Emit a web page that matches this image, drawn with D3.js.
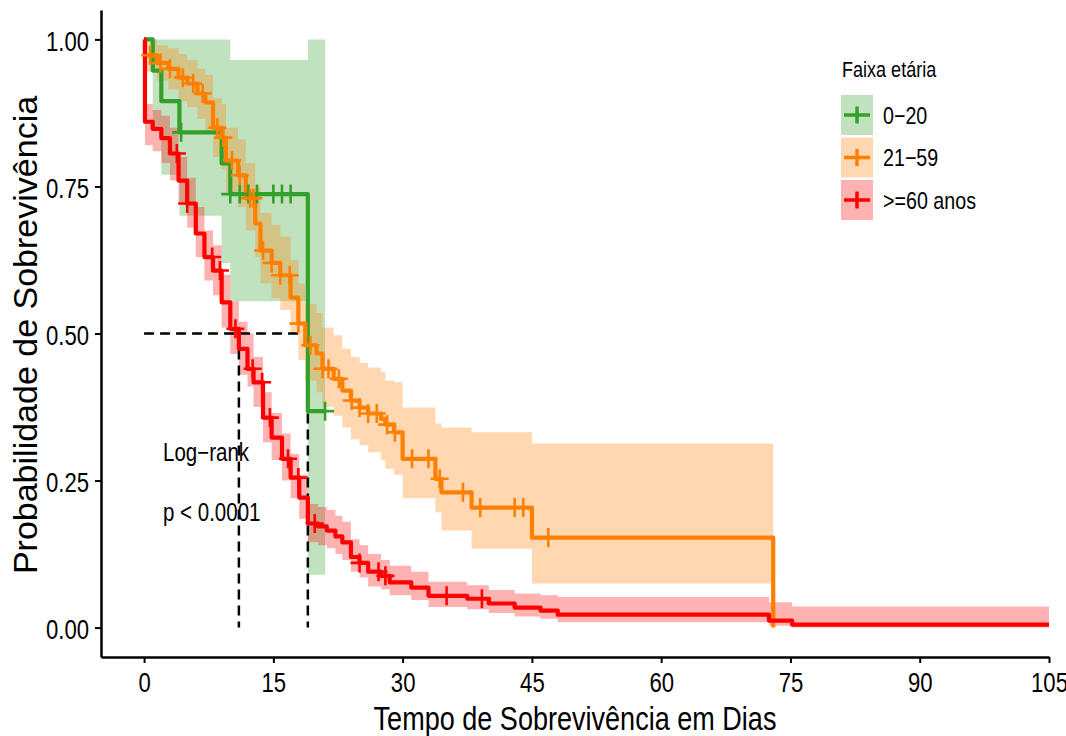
<!DOCTYPE html>
<html>
<head>
<meta charset="utf-8">
<script src="https://cdn.jsdelivr.net/npm/d3@7"></script>
<style>
  body { margin: 0; background: #fff; }
  svg { display: block; font-family: "Liberation Sans", Arial, sans-serif; }
</style>
</head>
<body>
<svg id="chart" width="1066" height="736"></svg>
<script>
// Kaplan-Meier estimates (time in days)
const greenTime  = [0, 1, 2, 4.1, 9, 10, 19];
const greenSurv  = [1, 0.947, 0.895, 0.842, 0.789, 0.737, 0.368];
const greenLower = [1, 0.85, 0.77, 0.70, 0.62, 0.555, 0.09];
const greenUpper = [1, 1, 1, 1, 1, 0.965, 1];
const greenCensor = [4.3, 10, 11.1, 12.1, 13.1, 15, 16, 17, 21];
const greenEnd = 21;

const orangeTime  = [0, 0.1, 1.5, 2.8, 4, 5, 6.2, 7.1, 8, 9, 9.5, 10.9, 11.8, 12.9, 13.5, 14.8, 15.8, 17, 17.9, 18.7, 20, 20.7, 22, 23, 24, 25, 26, 27.5, 28, 29, 30, 33.8, 34.5, 38, 45, 73];
const orangeSurv  = [1, 0.973, 0.96, 0.95, 0.935, 0.925, 0.908, 0.893, 0.85, 0.833, 0.794, 0.769, 0.73, 0.687, 0.641, 0.62, 0.599, 0.561, 0.517, 0.48, 0.466, 0.44, 0.423, 0.403, 0.386, 0.374, 0.364, 0.355, 0.345, 0.332, 0.287, 0.253, 0.23, 0.204, 0.153, 0];
const orangeLower = [1, 0.945, 0.93, 0.915, 0.895, 0.885, 0.865, 0.845, 0.80, 0.78, 0.74, 0.715, 0.675, 0.63, 0.585, 0.56, 0.54, 0.50, 0.455, 0.42, 0.40, 0.375, 0.36, 0.34, 0.32, 0.31, 0.298, 0.285, 0.27, 0.26, 0.22, 0.196, 0.165, 0.134, 0.075, 0.075];
const orangeUpper = [1, 1, 0.99, 0.985, 0.975, 0.965, 0.95, 0.94, 0.90, 0.89, 0.85, 0.83, 0.79, 0.75, 0.705, 0.685, 0.665, 0.625, 0.585, 0.55, 0.535, 0.51, 0.497, 0.474, 0.46, 0.45, 0.442, 0.434, 0.42, 0.417, 0.374, 0.347, 0.34, 0.332, 0.313, 0.313];
const orangeCensor = [0.7, 1.9, 3, 4.5, 5.7, 6.8, 8.5, 9.2, 10.2, 11.1, 12.3, 12.7, 13.8, 14.8, 15.8, 16.9, 17.9, 19.3, 20.7, 21.4, 22.6, 24.1, 25, 26, 27, 28.2, 29.1, 31.1, 33, 34.3, 37, 39, 43, 44, 46.9];
const orangeEnd = 73;

const redTime  = [0, 0.1, 1, 2, 3, 4, 5, 6, 7, 8, 9, 10, 11, 12, 12.7, 13.8, 14.8, 16, 17, 18, 19, 20.2, 21.2, 22.2, 23, 24, 25, 26, 27.5, 28.5, 31, 33, 37.5, 40, 43, 46, 48, 72.5, 75.2];
const redSurv  = [1, 0.86, 0.848, 0.832, 0.806, 0.76, 0.721, 0.67, 0.63, 0.607, 0.553, 0.508, 0.474, 0.44, 0.417, 0.357, 0.323, 0.287, 0.255, 0.221, 0.177, 0.172, 0.165, 0.155, 0.145, 0.12, 0.11, 0.095, 0.088, 0.077, 0.068, 0.054, 0.049, 0.041, 0.034, 0.029, 0.022, 0.012, 0.005];
const redLower = [1, 0.82, 0.81, 0.79, 0.76, 0.72, 0.68, 0.63, 0.59, 0.565, 0.51, 0.465, 0.43, 0.41, 0.375, 0.315, 0.285, 0.25, 0.22, 0.185, 0.145, 0.14, 0.135, 0.125, 0.115, 0.095, 0.085, 0.07, 0.065, 0.055, 0.047, 0.035, 0.031, 0.025, 0.019, 0.015, 0.009, 0.003, 0];
const redUpper = [1, 0.89, 0.88, 0.87, 0.85, 0.80, 0.765, 0.715, 0.675, 0.65, 0.60, 0.555, 0.52, 0.50, 0.46, 0.40, 0.365, 0.33, 0.295, 0.26, 0.21, 0.205, 0.20, 0.19, 0.18, 0.15, 0.14, 0.125, 0.115, 0.105, 0.095, 0.078, 0.072, 0.064, 0.058, 0.055, 0.052, 0.043, 0.036];
const redCensor = [3.8, 5, 7.9, 8.8, 10.6, 12.6, 13.7, 14.6, 16.7, 17.9, 19.8, 25, 27.2, 28, 35.1, 39.2];
const redEnd = 105;

const groupLabels = ["0\u221220", "21\u221259", ">=60 anos"];
const groupColors = ["#33A02C", "#FF7F00", "#FF0000"];

const xTicks = [0, 15, 30, 45, 60, 75, 90, 105];
const yTicks = [0, 0.25, 0.5, 0.75, 1];
const medians = [11, 19];

// Build one record per group
function makeGroup(time, surv, lower, upper, censor, end, i) {
    const pts = time.map((t, j) => ({ t: t, s: surv[j], lo: lower[j], hi: upper[j] }));
    const last = pts[pts.length - 1];
    pts.push({ t: end, s: last.s, lo: last.lo, hi: last.hi });
    return { pts: pts, censor: censor, label: groupLabels[i], color: groupColors[i] };
}

const groups = [
    makeGroup(greenTime, greenSurv, greenLower, greenUpper, greenCensor, greenEnd, 0),
    makeGroup(orangeTime, orangeSurv, orangeLower, orangeUpper, orangeCensor, orangeEnd, 1),
    makeGroup(redTime, redSurv, redLower, redUpper, redCensor, redEnd, 2)
];

// survival value at time t (step function)
function survAt(g, t) {
    let s = g.pts[0].s;
    g.pts.forEach(p => { if (p.t <= t) s = p.s; });
    return s;
}

const svg = d3.select("#chart");
const narrow = 0.82;

const x = d3.scaleLinear().domain([-5, 105]).range([101, 1049]);
const y = d3.scaleLinear().domain([-0.05, 1.05]).range([657, 10]);

const band = d3.area()
    .x(d => x(d.t))
    .y0(d => y(d.lo))
    .y1(d => y(d.hi))
    .curve(d3.curveStepAfter);

const line = d3.line()
    .x(d => x(d.t))
    .y(d => y(d.s))
    .curve(d3.curveStepAfter);

// Confidence bands
svg.append("g").selectAll("path")
    .data(groups)
    .enter()
    .append("path")
    .attr("d", d => band(d.pts))
    .style("fill", d => d.color)
    .style("fill-opacity", 0.3)
    .style("stroke", "none");

// Median dashed lines
const dash = svg.append("g")
    .style("stroke", "#000")
    .style("stroke-width", 2.5)
    .style("stroke-dasharray", "10,6")
    .style("fill", "none");

dash.append("line")
    .attr("x1", x(0)).attr("x2", x(d3.max(medians)))
    .attr("y1", y(0.5)).attr("y2", y(0.5));

dash.selectAll(".vmed")
    .data(medians)
    .enter()
    .append("line")
    .attr("class", "vmed")
    .attr("x1", d => x(d)).attr("x2", d => x(d))
    .attr("y1", y(0.5)).attr("y2", y(0));

// Survival curves
svg.append("g").selectAll("path")
    .data(groups)
    .enter()
    .append("path")
    .attr("d", d => line(d.pts))
    .style("fill", "none")
    .style("stroke", d => d.color)
    .style("stroke-width", 4.2)
    .style("stroke-linejoin", "round");

// Censor marks
const plus = "M-9,0H9M0,-9.5V9.5";
groups.forEach(g => {
    svg.append("g").selectAll("path")
        .data(g.censor)
        .enter()
        .append("path")
        .attr("transform", t => `translate(${x(t)},${y(survAt(g, t))})`)
        .attr("d", plus)
        .style("stroke", g.color)
        .style("stroke-width", 2.6)
        .style("fill", "none");
});

// Axes
const xAxis = svg.append("g")
    .attr("transform", "translate(0,657)")
    .call(d3.axisBottom(x).tickValues(xTicks).tickSize(6).tickSizeOuter(0).tickPadding(10).tickFormat(d => d));

const yAxis = svg.append("g")
    .attr("transform", "translate(101,0)")
    .call(d3.axisLeft(y).tickValues(yTicks).tickSize(6).tickSizeOuter(0).tickFormat(d3.format(".2f")));

[xAxis, yAxis].forEach(a => {
    a.select(".domain").style("stroke", "#000").style("stroke-width", 2.5);
    a.selectAll(".tick line").style("stroke", "#000").style("stroke-width", 2);
    a.selectAll(".tick text")
        .style("font-size", "27px")
        .style("fill", "#000")
        .style("font-family", "'Liberation Sans', Arial, sans-serif");
});

xAxis.selectAll(".tick text").attr("transform", `scale(${narrow},1)`);
yAxis.selectAll(".tick text")
    .attr("x", -12 / narrow)
    .attr("dy", "0.42em")
    .attr("transform", `scale(${narrow},1)`);

// Axis titles
svg.append("text")
    .attr("transform", `translate(575,730) scale(${narrow},1)`)
    .attr("text-anchor", "middle")
    .style("font-size", "33px")
    .text("Tempo de Sobrevivência em Dias");

svg.append("text")
    .attr("transform", "translate(37,335) rotate(-90)")
    .attr("text-anchor", "middle")
    .style("font-size", "34px")
    .text("Probabilidade de Sobrevivência");

// Log-rank annotation
svg.append("text")
    .attr("transform", `translate(163,461) scale(${narrow},1)`)
    .style("font-size", "25px")
    .text("Log\u2212rank");

svg.append("text")
    .attr("transform", `translate(163,521) scale(${narrow},1)`)
    .style("font-size", "25px")
    .text("p < 0.0001");

// Legend
const legend = svg.append("g").attr("transform", "translate(841,0)");

legend.append("text")
    .attr("transform", `translate(1,77) scale(${narrow},1)`)
    .style("font-size", "22px")
    .text("Faixa etária");

const keys = legend.selectAll(".key")
    .data(groups)
    .enter()
    .append("g")
    .attr("class", "key")
    .attr("transform", (d, i) => `translate(0,${95 + i * 42.5})`);

keys.append("rect")
    .attr("width", 32)
    .attr("height", 40)
    .style("fill", d => d.color)
    .style("fill-opacity", 0.3);

keys.append("path")
    .attr("d", "M3,20H29M16,11.5V28.5")
    .style("stroke", d => d.color)
    .style("stroke-width", 3.5)
    .style("fill", "none");

keys.append("text")
    .attr("transform", `translate(42,28.5) scale(${narrow},1)`)
    .style("font-size", "24px")
    .text(d => d.label);
</script>
</body>
</html>
